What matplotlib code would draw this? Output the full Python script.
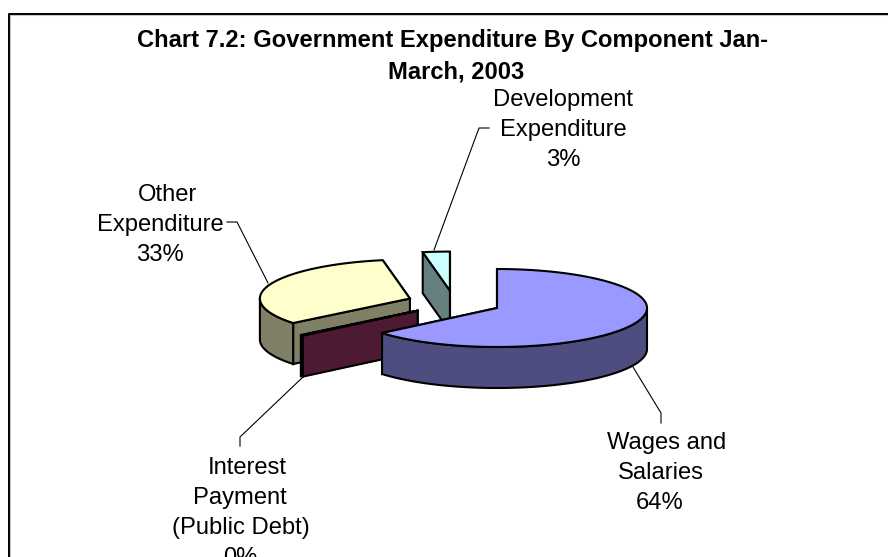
import numpy as np
import matplotlib
matplotlib.use("Agg")
import matplotlib.pyplot as plt
from matplotlib.patches import Polygon

plt.rcParams['font.family'] = ['Liberation Sans', 'DejaVu Sans']

# Slices, clockwise from 12 o'clock
categories = ["Wages and Salaries", "Interest Payment (Public Debt)", "Other Expenditure", "Development Expenditure"]
values = [63.9, 0.3, 32.9, 2.9]
top_colors = ["#9999FF", "#993366", "#FFFFCC", "#CCFFFF"]
side_colors = ["#4D4D80", "#4D1933", "#808066", "#668080"]
label_lines = [["Wages and", "Salaries"], ["Interest", "Payment", "(Public Debt)"], ["Other", "Expenditure"], ["Development", "Expenditure"]]
title_lines = ["Chart 7.2: Government Expenditure By Component Jan-", "March, 2003"]

# Pie geometry in pixels
CX, CY = 454.2, 302.8
RX, RY = 150.0, 39.0
DEPTH = 41.0
EXPLODE = 0.315
EDGE = 1.5

fig = plt.figure(figsize=(8.88, 5.57), dpi=100)
ax = fig.add_axes([0, 0, 1, 1])
ax.set_xlim(0, 888)
ax.set_ylim(557, 0)
ax.axis("off")


def rim(theta, ax0, ay0):
    return np.column_stack([ax0 + RX * np.sin(theta), ay0 - RY * np.cos(theta)])


def draw_slice(t1, t2, top, side, z):
    mid = (t1 + t2) / 2
    ax0 = CX + EXPLODE * RX * np.sin(mid)
    ay0 = CY - EXPLODE * RY * np.cos(mid)
    apex = np.array([ax0, ay0])
    drop = np.array([0, DEPTH])
    style = dict(edgecolor="black", linewidth=EDGE, joinstyle="miter", zorder=z)

    # cut faces, the far one first
    ends = sorted([t1, t2], key=lambda t: -np.cos(t))
    for t in ends:
        p = rim(np.array([t]), ax0, ay0)[0]
        ax.add_patch(Polygon([apex, p, p + drop, apex + drop], facecolor=side, **style))

    # outer wall, only the front part shows
    a, b = max(t1, np.pi / 2), min(t2, 3 * np.pi / 2)
    if b > a:
        arc = rim(np.linspace(a, b, 120), ax0, ay0)
        ax.add_patch(Polygon(np.vstack([arc, arc[::-1] + drop]), facecolor=side, **style))

    # top surface
    arc = rim(np.linspace(t1, t2, 200), ax0, ay0)
    ax.add_patch(Polygon(np.vstack([apex, arc]), facecolor=top, **style))


edges = np.cumsum([0] + values) / sum(values) * 2 * np.pi
# painter order: back slices first
for z, i in enumerate([3, 2, 1, 0]):
    draw_slice(edges[i], edges[i + 1], top_colors[i], side_colors[i], 3 + z)

# chart frame with its soft shadow
ax.plot([9.6, 9.6, 888], [557, 14.6, 14.6], color="#C8C8C8", lw=0.8, zorder=1)
ax.plot([8.5, 8.5, 888], [557, 13.5, 13.5], color="black", lw=1.4, zorder=2)

# title
ax.text(452.5, 46.7, title_lines[0], ha="center", va="baseline", fontsize=17.1, fontweight="bold", color="black")
ax.text(455.7, 79, title_lines[1], ha="center", va="baseline", fontsize=17.1, fontweight="bold", color="black")

# data labels: x of each line, first baseline
label_x = [[667, 661, 660], [247, 240, 241, 240], [167, 160, 160], [563, 563, 563]]
label_y = [449, 474, 201, 105.7]
for lines, xs, y0, v in zip(label_lines, label_x, label_y, values):
    for k, line in enumerate(lines + [f"{round(v)}%"]):
        ax.text(xs[k], y0 + k * 30.0, line, ha="center", va="baseline", fontsize=17.1, color="black")

# leader lines
leaders = [
    ([633, 661, 661], [367, 413, 423]),
    ([303, 240, 240], [377, 437, 446]),
    ([268, 237, 227], [283, 222, 222]),
    ([434, 479, 489], [250, 128, 128]),
]
for lx, ly in leaders:
    ax.plot(lx, ly, color="black", lw=0.8, zorder=2, solid_joinstyle="miter")

fig.savefig("out.png", dpi=100)
